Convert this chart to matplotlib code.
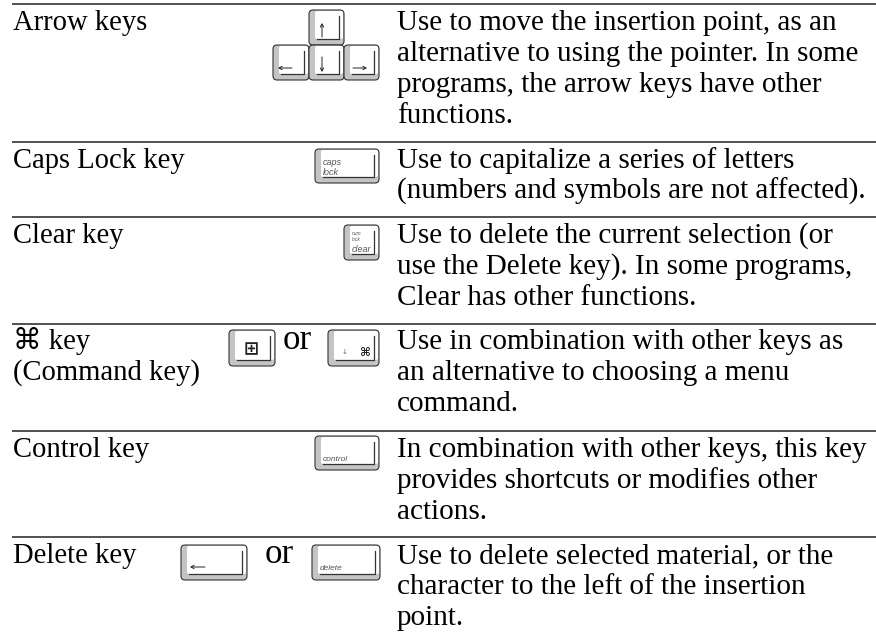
import matplotlib
matplotlib.use('Agg')
import matplotlib.pyplot as plt
from matplotlib.patches import FancyBboxPatch

W, H = 876, 637
FONT = ['Liberation Serif', 'DejaVu Sans']
NAME_SIZE = 20.6
DESC_SIZE = 21

# horizontal rules between rows (pixel y)
rules = [4, 142, 217, 324, 431, 537]

# left column, (baseline y, text)
names = [(30, 'Arrow keys'), (168, 'Caps Lock key'), (243, 'Clear key'),
         (349, '\u2318 key'), (380, '(Command key)'),
         (457, 'Control key'), (563, 'Delete key')]

# right column, (baseline y, text)
descriptions = [
    (30, 'Use to move the insertion point, as an'),
    (61, 'alternative to using the pointer. In some'),
    (92, 'programs, the arrow keys have other'),
    (123, 'functions.'),
    (168, 'Use to capitalize a series of letters'),
    (199, '(numbers and symbols are not affected).'),
    (243, 'Use to delete the current selection (or'),
    (274, 'use the Delete key). In some programs,'),
    (305, 'Clear has other functions.'),
    (349, 'Use in combination with other keys as'),
    (380, 'an alternative to choosing a menu'),
    (411, 'command.'),
    (457, 'In combination with other keys, this key'),
    (488, 'provides shortcuts or modifies other'),
    (519, 'actions.'),
    (563, 'Use to delete selected material, or the'),
    (594, 'character to the left of the insertion'),
    (625, 'point.'),
]

# the word between two keys
ors = [(283, 349), (265, 563)]

# keycaps: x0, y0, x1, y1, label lines as (size, baseline y, text)
keys = [
    (309, 10, 344, 45, []),
    (273, 45, 309, 80, []),
    (309, 45, 344, 80, []),
    (344, 45, 379, 80, []),
    (315, 149, 379, 183, [(6.5, 165, 'caps'), (6.5, 175, 'lock')]),
    (344, 225, 379, 260, [(3.5, 235, 'num'), (3.5, 241, 'lock'), (6.5, 252, 'clear')]),
    (229, 330, 275, 366, []),
    (328, 330, 379, 366, []),
    (315, 436, 379, 470, [(6, 461, 'control')]),
    (181, 545, 247, 580, []),
    (312, 545, 380, 580, [(6, 570, 'delete')]),
]

# arrow glyph lines on keys: x0, y0, x1, y1
arrows = [
    (322, 37, 322, 23),
    (292, 68, 278, 68),
    (322, 57, 322, 72),
    (353, 68, 367, 68),
    (205, 567, 190, 567),
]

fig = plt.figure(figsize=(W / 100, H / 100), dpi=100)
ax = fig.add_axes([0, 0, 1, 1])
ax.set_xlim(0, W)
ax.set_ylim(H, 0)
ax.axis('off')

for y in rules:
    ax.plot([12, W], [y, y], color='#222222', lw=1.1, solid_capstyle='butt')

for y, s in names:
    ax.text(13, y, s, family=FONT, fontsize=NAME_SIZE, color='#000000', va='baseline')
for y, s in descriptions:
    ax.text(397, y, s, family=FONT, fontsize=DESC_SIZE, color='#000000', va='baseline')
for x, y in ors:
    ax.text(x, y, 'or', family=FONT, fontsize=25, color='#000000', va='baseline')

for x0, y0, x1, y1, label in keys:
    # outer cap, grey bevel on the left and bottom
    ax.add_patch(FancyBboxPatch((x0 + 3, y0 + 3), x1 - x0 - 6, y1 - y0 - 6,
                                boxstyle='round,pad=3,rounding_size=4',
                                fc='#c4c4c4', ec='#333333', lw=0.8))
    # top of the key, runs out to the right edge
    ax.add_patch(FancyBboxPatch((x0 + 6, y0 + 1), x1 - x0 - 7, y1 - y0 - 7,
                                boxstyle='round,pad=0,rounding_size=2',
                                fc='white', ec='none'))
    ax.plot([x1 - 5, x1 - 5, x0 + 8], [y0 + 6, y1 - 6, y1 - 6], color='#333333', lw=0.9)
    for size, base, s in label:
        ax.text(x0 + 8, base, s, family='Liberation Sans', style='italic',
                fontsize=size, color='#555555', va='baseline')

for x0, y0, x1, y1 in arrows:
    ax.annotate('', xy=(x1, y1), xytext=(x0, y0),
                arrowprops=dict(arrowstyle='->,head_width=0.12,head_length=0.22',
                                lw=0.7, color='#222222', shrinkA=0, shrinkB=0))

# glyphs on the two command keys
ax.text(251, 349, '\u229e', family='DejaVu Sans', fontsize=13, fontweight='bold',
        ha='center', va='center', color='#222222')
ax.text(365, 352, '\u2318', family='DejaVu Sans', fontsize=8.5, fontweight='bold',
        ha='center', va='center', color='#222222')
ax.text(345, 352, '\u2193', family='DejaVu Sans', fontsize=5, ha='center', va='center', color='#666666')

fig.savefig('out.png', dpi=100, facecolor='white')
